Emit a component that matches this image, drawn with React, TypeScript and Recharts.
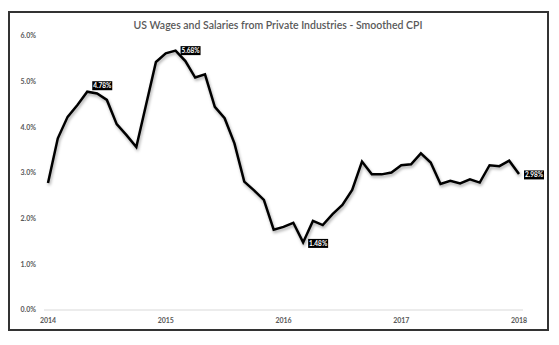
import React from "react";
import { LineChart, Line, XAxis, YAxis, LabelList } from "recharts";

const months = [
  "2014-01","2014-02","2014-03","2014-04","2014-05","2014-06","2014-07","2014-08","2014-09","2014-10","2014-11","2014-12",
  "2015-01","2015-02","2015-03","2015-04","2015-05","2015-06","2015-07","2015-08","2015-09","2015-10","2015-11","2015-12",
  "2016-01","2016-02","2016-03","2016-04","2016-05","2016-06","2016-07","2016-08","2016-09","2016-10","2016-11","2016-12",
  "2017-01","2017-02","2017-03","2017-04","2017-05","2017-06","2017-07","2017-08","2017-09","2017-10","2017-11","2017-12",
  "2018-01",
];

const wageGrowth = [
  2.78, 3.76, 4.23, 4.49, 4.78, 4.74, 4.60, 4.07, 3.83, 3.57, 4.50, 5.43,
  5.62, 5.68, 5.45, 5.09, 5.16, 4.45, 4.20, 3.65, 2.81, 2.62, 2.41, 1.76,
  1.82, 1.91, 1.48, 1.95, 1.86, 2.10, 2.30, 2.63, 3.25, 2.97, 2.97, 3.01,
  3.17, 3.19, 3.43, 3.23, 2.76, 2.83, 2.77, 2.86, 2.79, 3.17, 3.15, 3.27,
  2.98,
];

const labelledMonths = ["2014-05", "2015-02", "2016-03", "2018-01"];
const labelOffsets = [-6, 0, 1, 1];

const yTicks = [0, 1, 2, 3, 4, 5, 6];

const data = months.map((m, i) => ({ month: m, value: wageGrowth[i] }));

const FONT = "Lato, 'Open Sans', sans-serif";

const renderLabel = (props: any) => {
  const { x, y, index } = props;
  const m = months[index];
  const k = labelledMonths.indexOf(m);
  if (k < 0) return null;
  const cy = y + labelOffsets[k];
  const text = wageGrowth[index].toFixed(2) + "%";
  return (
    <g>
      <rect x={x + 5} y={cy - 4.5} width={20} height={9} fill="#000" />
      <text
        x={x + 15}
        y={cy}
        fill="#fff"
        fontSize={6.5}
        fontWeight="bold"
        fontFamily={FONT}
        textAnchor="middle"
        dominantBaseline="central"
      >
        {text}
      </text>
    </g>
  );
};

export default function App() {
  return (
    <div
      style={{
        position: "absolute",
        left: 0,
        top: 0,
        width: 559,
        height: 345,
        background: "#fff",
        fontFamily: FONT,
      }}
    >
      <style>{`.recharts-line-curve{filter:drop-shadow(1.5px 2px 1.5px rgba(0,0,0,0.35));}`}</style>
      <div
        style={{
          position: "absolute",
          left: 8,
          top: 11,
          width: 541,
          height: 320,
          border: "2px solid #333",
          boxSizing: "border-box",
        }}
      />
      <div
        style={{
          position: "absolute",
          left: 8,
          top: 19,
          width: 540,
          textAlign: "center",
          fontSize: 10.5,
          lineHeight: "13px",
          fontWeight: 600,
          color: "#595959",
        }}
      >
        US Wages and Salaries from Private Industries - Smoothed CPI
      </div>
      <div style={{ position: "absolute", left: 0, top: 0 }}>
        <LineChart
          width={559}
          height={345}
          data={data}
          margin={{ top: 36, right: 36, bottom: 5, left: 0 }}
        >
          <XAxis
            dataKey="month"
            interval={11}
            padding={{ left: 4, right: 4 }}
            height={30}
            tickLine={false}
            tickSize={0}
            tickMargin={8}
            axisLine={{ stroke: "#d9d9d9", strokeWidth: 1 }}
            tick={{ fill: "#595959", fontSize: 7, fontWeight: "bold", fontFamily: FONT }}
            tickFormatter={(v: string) => v.slice(0, 4)}
          />
          <YAxis
            domain={[0, 6]}
            ticks={yTicks}
            width={44}
            axisLine={false}
            tickLine={false}
            tickSize={0}
            tickMargin={8}
            tick={{ fill: "#595959", fontSize: 7, fontWeight: "bold", fontFamily: FONT }}
            tickFormatter={(v: number) => v.toFixed(1) + "%"}
          />
          <Line
            type="linear"
            dataKey="value"
            stroke="#000"
            strokeWidth={2.5}
            dot={false}
            isAnimationActive={false}
          >
            <LabelList dataKey="value" content={renderLabel} />
          </Line>
        </LineChart>
      </div>
    </div>
  );
}
